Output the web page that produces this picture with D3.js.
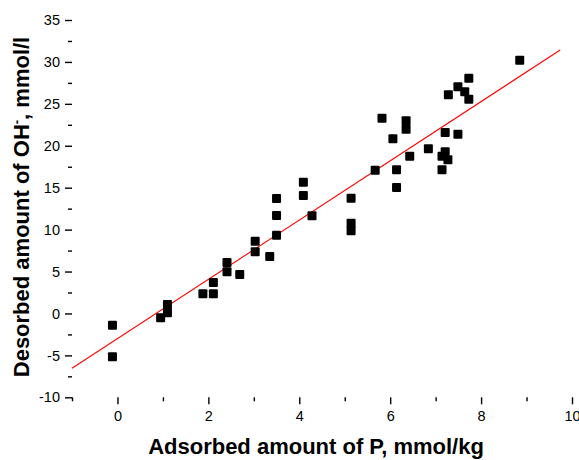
<!DOCTYPE html>
<html><head><meta charset="utf-8">
<script src="https://cdn.jsdelivr.net/npm/d3@7"></script>
<style>body{margin:0;background:#fff;} svg{display:block;}</style>
</head><body>
<svg id="c" width="579" height="460"></svg>
<script>
const xVals = [-0.11,-0.11,0.95,1.10,1.10,1.88,2.11,2.11,2.41,2.41,2.69,3.03,3.03,3.35,3.50,3.50,3.50,4.09,4.09,4.28,5.14,5.14,5.14,5.67,5.82,6.06,6.14,6.14,6.35,6.35,6.43,6.84,7.14,7.14,7.21,7.27,7.21,7.49,7.28,7.49,7.64,7.73,7.73,8.85];
const yVals = [-1.4,-5.17,-0.52,1.07,0.08,2.34,2.34,3.69,6.08,4.96,4.65,8.62,7.35,6.79,9.34,11.68,13.71,15.66,14.07,11.64,13.75,10.77,9.85,17.09,23.29,20.83,17.13,15.02,22.97,21.98,18.76,19.63,18.76,17.13,19.28,18.32,21.58,21.38,26.07,27.03,26.43,28.06,25.56,30.21];
const fitX = [-1, 9.74];
const fitSlope = 3.534, fitIntercept = -3.0;
const xTicks = [0,2,4,6,8,10];
const yTicks = [-10,-5,0,5,10,15,20,25,30,35];

const svg = d3.select("#c");
const x = d3.scaleLinear().domain([-1,10]).range([72,572]);
const y = d3.scaleLinear().domain([-10,35]).range([397.3,20]);
const font = "'Liberation Sans', Arial, sans-serif";
const fmt = d => String(d);

// axes
const xAxis = d3.axisBottom(x).tickValues(xTicks).tickSize(7).tickPadding(4).tickFormat(fmt);
const gx = svg.append("g").attr("transform","translate(0,397.3)").call(xAxis);
const xMinor = d3.axisBottom(x).tickValues(d3.range(-1,11,2)).tickSize(4).tickFormat("");
svg.append("g").attr("transform","translate(0,397.3)").call(xMinor);
const yAxis = d3.axisLeft(y).tickValues(yTicks).tickSize(7).tickPadding(5).tickFormat(fmt);
const gy = svg.append("g").attr("transform","translate(72,0)").call(yAxis);
const yMinor = d3.axisLeft(y).tickValues(d3.range(-7.5,35,5)).tickSize(4).tickFormat("");
svg.append("g").attr("transform","translate(72,0)").call(yMinor);
svg.selectAll(".domain").attr("stroke","#000").attr("stroke-width",1.6);
svg.selectAll(".tick line").attr("stroke","#000").attr("stroke-width",1.4);
svg.selectAll(".tick text").attr("font-family",font).attr("font-size",14.5).attr("fill","#000");
gx.selectAll(".tick text").attr("dy","0.85em");
svg.selectAll(".domain").attr("d", function(){ return d3.select(this).attr("d").replace(/^M[^H V]*[VH][^HV]*/,""); });

// fit line
svg.append("line")
  .attr("x1",x(fitX[0])).attr("y1",y(fitSlope*fitX[0]+fitIntercept))
  .attr("x2",x(fitX[1])).attr("y2",y(fitSlope*fitX[1]+fitIntercept))
  .attr("stroke","#ff0000").attr("stroke-width",1.1);

// points
const s = 9;
svg.append("g").selectAll("rect").data(xVals.map((d,i)=>[d,yVals[i]])).join("rect")
  .attr("x",d=>x(d[0])-s/2).attr("y",d=>y(d[1])-s/2)
  .attr("width",s).attr("height",s).attr("rx",1).attr("fill","#000");

// titles
svg.append("text").attr("x",316).attr("y",454).attr("text-anchor","middle")
  .attr("font-family",font).attr("font-weight","bold").attr("font-size",22)
  .text("Adsorbed amount of P, mmol/kg");
const yt = svg.append("text").attr("transform","translate(29,207) rotate(-90)").attr("text-anchor","middle")
  .attr("font-family",font).attr("font-weight","bold").attr("font-size",22);
yt.append("tspan").text("Desorbed amount of OH");
yt.append("tspan").attr("dy",-8).attr("font-size",13).text("-");
yt.append("tspan").attr("dy",8).text(", mmol/l");
</script>
</body></html>
